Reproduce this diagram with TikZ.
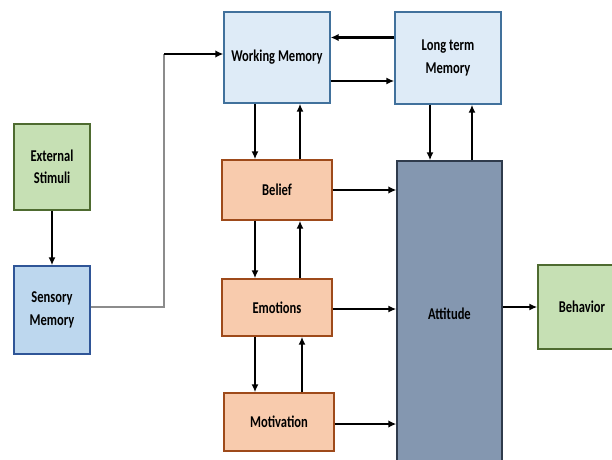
\documentclass[tikz,border=0pt]{standalone}
\usepackage{fontspec}
\setmainfont{Carlito}[FakeStretch=0.76]
\usetikzlibrary{arrows.meta,calc}
\definecolor{gfill}{HTML}{C6E0B4}
\definecolor{gdraw}{HTML}{4E6B30}
\definecolor{sfill}{HTML}{BDD7EE}
\definecolor{sdraw}{HTML}{2F5597}
\definecolor{wfill}{HTML}{DEEBF7}
\definecolor{wdraw}{HTML}{41719C}
\definecolor{ofill}{HTML}{F8CBAD}
\definecolor{odraw}{HTML}{9E4A1A}
\definecolor{afill}{HTML}{8497B0}
\definecolor{adraw}{HTML}{2F3B4C}
\tikzset{
  box/.style={draw, line width=1.4pt, inner sep=0pt, align=center,
    font=\fontsize{16.5}{22.5}\selectfont\bfseries, text=black},
  greenbox/.style={box, fill=gfill, draw=gdraw},
  sensbox/.style={box, fill=sfill, draw=sdraw},
  membox/.style={box, fill=wfill, draw=wdraw},
  orbox/.style={box, fill=ofill, draw=odraw},
  attbox/.style={box, fill=afill, draw=adraw},
  arr/.style={draw=black, line width=1.6pt, -{Latex[length=8pt,width=7pt]}},
  tarr/.style={draw=black, line width=2.4pt, -{Latex[length=8pt,width=7.5pt]}},
}
\begin{document}
\begin{tikzpicture}[x=1pt,y=-1pt]
\useasboundingbox (0,0) rectangle (612,459);
\clip (0,0) rectangle (612,459);
\node[greenbox, minimum width=76pt, minimum height=86pt] (es) at (52,167) {External\\Stimuli};
\node[sensbox, minimum width=76pt, minimum height=88pt] (sm) at (52,310) {Sensory\\Memory};
\node[membox, minimum width=106pt, minimum height=91pt] (wm) at (277,57.5) {Working Memory};
\node[membox, minimum width=106pt, minimum height=92pt] (ltm) at (448,58) {Long term\\Memory};
\node[orbox, minimum width=110pt, minimum height=60pt] (bel) at (277,190) {Belief};
\node[orbox, minimum width=110pt, minimum height=57pt] (emo) at (277,307.5) {Emotions};
\node[orbox, minimum width=110pt, minimum height=58pt] (mot) at (279,422) {Motivation};
\node[attbox, minimum width=105pt, minimum height=305pt] (att) at (449.5,313.5) {Attitude};
\node[greenbox, minimum width=88pt, minimum height=84pt] (beh) at (582,307) {Behavior};
\coordinate (c1) at (164,307);
\coordinate (c2) at (164,54);
% connectors
\draw[arr] (es.south) -- (sm.north);
\draw[draw=black!45, line width=1.2pt] (sm.east |- c1) -- (c1) -- (c2);
\draw[tarr] (c2) -- (c2 -| wm.west);
\draw[tarr] ([yshift=20.5pt]ltm.west) -- ([yshift=20.5pt]ltm.west -| wm.east);
\draw[arr] ([yshift=-23.5pt]wm.east) -- ([yshift=-23.5pt]wm.east -| ltm.west);
\draw[arr] ([xshift=-22pt]wm.south) -- ([xshift=-22pt]bel.north);
\draw[arr] ([xshift=23pt]bel.north) -- ([xshift=23pt]wm.south);
\draw[arr] ([xshift=-22pt]bel.south) -- ([xshift=-22pt]emo.north);
\draw[arr] ([xshift=23pt]emo.north) -- ([xshift=23pt]bel.south);
\draw[arr] ([xshift=-22pt]emo.south) -- ([xshift=-22pt]emo.south |- mot.north);
\draw[arr] ([xshift=23pt]mot.north) -- ([xshift=25pt]emo.south);
\draw[tarr] (bel.east) -- (bel.east -| att.west);
\draw[arr] ([yshift=-1.5pt]emo.east) -- ([yshift=-1.5pt]emo.east -| att.west);
\draw[tarr] ([yshift=-2pt]mot.east) -- ([yshift=-2pt]mot.east -| att.west);
\draw[arr] ([xshift=-18pt]ltm.south) -- ([xshift=-18pt]ltm.south |- att.north);
\draw[arr] ([xshift=22.5pt]att.north) -- ([xshift=22.5pt]att.north |- ltm.south);
\draw[arr] (att.east |- beh.west) -- (beh.west);
\end{tikzpicture}
\end{document}
